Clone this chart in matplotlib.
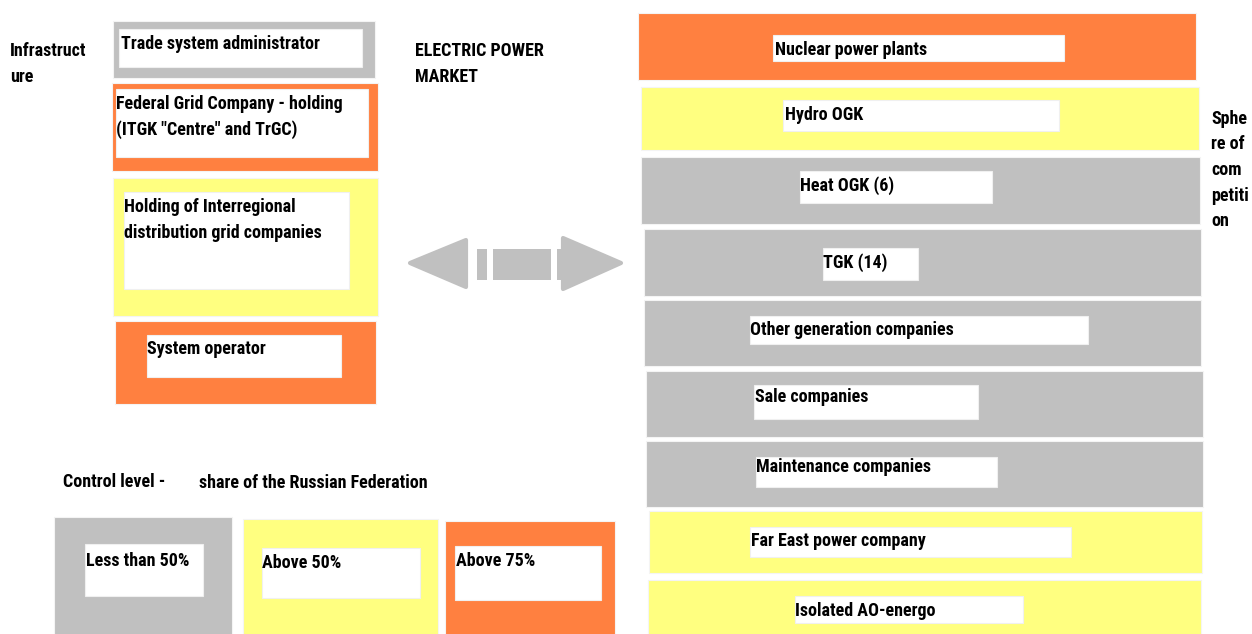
#!/usr/bin/env python3
"""Electric power market structure diagram (infrastructure vs sphere of competition),
boxes coloured by the control level share of the Russian Federation."""
import matplotlib
matplotlib.use("Agg")
import matplotlib.pyplot as plt
from matplotlib.patches import Rectangle, Polygon

plt.rcParams["font.family"] = ["Liberation Sans Narrow", "Roboto Condensed",
                               "DejaVu Sans Condensed", "Liberation Sans"]

# --- data -------------------------------------------------------------------
control_levels = ["Less than 50%", "Above 50%", "Above 75%"]
level_colors = ["#c0c0c0", "#ffff80", "#ff8040"]

infra_labels = ["Trade system administrator",
                "Federal Grid Company - holding\n(ITGK \"Centre\" and TrGC)",
                "Holding of Interregional\ndistribution grid companies",
                "System operator"]
infra_levels = ["Less than 50%", "Above 75%", "Above 50%", "Above 75%"]

comp_labels = ["Nuclear power plants", "Hydro OGK", "Heat OGK (6)", "TGK (14)",
               "Other generation companies", "Sale companies", "Maintenance companies",
               "Far East power company", "Isolated AO-energo"]
comp_levels = ["Above 75%", "Above 50%", "Less than 50%", "Less than 50%",
               "Less than 50%", "Less than 50%", "Less than 50%",
               "Above 50%", "Above 50%"]

# --- layout (pixels: outer box, inner white box, text anchor) ---------------
infra_outer = [(113, 21, 375, 78), (112, 83, 378, 171), (113, 178, 378, 316), (115, 321, 376, 404)]
infra_inner = [(119, 29, 362, 67), (116, 89, 368, 157), (124, 192, 349, 289), (147, 335, 341, 377)]
infra_text = [(121, 44), (116, 117), (124, 220), (147, 349)]

comp_outer = [(638, 13, 1196, 80), (641, 87, 1199, 150), (641, 157, 1200, 224),
              (644, 229, 1201, 296), (644, 300, 1201, 366), (646, 371, 1203, 437),
              (646, 441, 1203, 507), (649, 511, 1202, 573), (648, 580, 1201, 640)]
comp_inner = [(773, 35, 1064, 61), (783, 100, 1059, 131), (800, 171, 992, 203),
              (823, 248, 918, 280), (750, 316, 1088, 344), (754, 385, 978, 419),
              (756, 457, 997, 487), (750, 527, 1071, 557), (795, 596, 1023, 623)]
comp_text = [(775, 50), (785, 115), (800, 186), (823, 263), (750, 330),
             (755, 397), (756, 467), (751, 541), (795, 611)]

legend_outer = [(54, 517, 232, 640), (243, 519, 438, 640), (445, 521, 615, 640)]
legend_inner = [(85, 544, 203, 596), (262, 548, 420, 598), (455, 546, 601, 600)]
legend_text = [(86, 561), (262, 563), (456, 561)]

FS = 13
LS = 1.55

fig = plt.figure(figsize=(12.52, 6.34), dpi=100)
ax = fig.add_axes([0, 0, 1, 1])
ax.set_xlim(0, 1252)
ax.set_ylim(634, 0)
ax.axis("off")


def box(outer, inner, color, label, txy):
    x0, y0, x1, y1 = outer
    ax.add_patch(Rectangle((x0, y0), x1 - x0, y1 - y0, facecolor=color,
                           edgecolor="#f4f4f4", linewidth=0.8))
    x0, y0, x1, y1 = inner
    ax.add_patch(Rectangle((x0, y0), x1 - x0, y1 - y0, facecolor="white",
                           edgecolor="#f0f0f0", linewidth=0.8))
    ax.text(txy[0], txy[1], label, fontsize=FS, fontweight="bold", ha="left",
            va="center", linespacing=LS)


color_of = dict(zip(control_levels, level_colors))
for lab, lev, o, i, t in zip(infra_labels, infra_levels, infra_outer, infra_inner, infra_text):
    box(o, i, color_of[lev], lab, t)
for lab, lev, o, i, t in zip(comp_labels, comp_levels, comp_outer, comp_inner, comp_text):
    box(o, i, color_of[lev], lab, t)
for lab, col, o, i, t in zip(control_levels, level_colors, legend_outer, legend_inner, legend_text):
    box(o, i, col, lab, t)

# side captions
ax.text(10, 64, "Infrastruct\nure", fontsize=FS, fontweight="bold", va="center", linespacing=LS)
ax.text(415, 64, "ELECTRIC POWER\nMARKET", fontsize=FS, fontweight="bold", va="center", linespacing=LS)
ax.text(1211, 170, "Sphe\nre of\ncom\npetiti\non", fontsize=FS, fontweight="bold", va="center",
        linespacing=LS)
ax.text(63, 482, "Control level -", fontsize=FS, fontweight="bold", va="center")
ax.text(199, 483, "share of the Russian Federation", fontsize=FS, fontweight="bold", va="center")

# double arrow between the two spheres
grey = "#c0c0c0"
ax.add_patch(Polygon([(410, 263), (466, 240), (466, 287)], closed=True, facecolor=grey, edgecolor=grey,
                     linewidth=3, joinstyle="round"))
ax.add_patch(Polygon([(621, 263), (563, 238), (563, 289)], closed=True, facecolor=grey, edgecolor=grey,
                     linewidth=3, joinstyle="round"))
for bx0, bx1 in [(477, 487), (493, 551), (557, 563)]:
    ax.add_patch(Rectangle((bx0, 249), bx1 - bx0, 31, facecolor=grey, edgecolor="none"))

fig.savefig("out.png", dpi=100)
print("wrote out.png")
